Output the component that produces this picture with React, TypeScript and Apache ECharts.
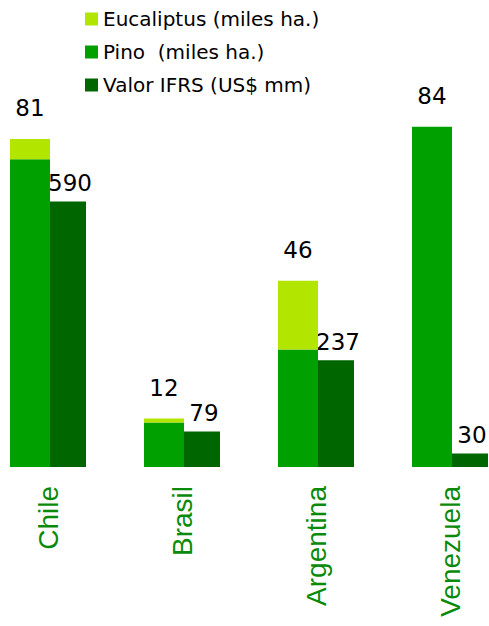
import React, { useEffect, useRef } from "react";
import * as echarts from "echarts";

const categories = ["Chile", "Brasil", "Argentina", "Venezuela"];
const pinoValues = [76, 11, 29, 84];
const eucaliptusValues = [5, 1, 17, 0];
const ifrsValues = [590, 79, 237, 30];
const legendNames = ["Eucaliptus (miles ha.)", "Pino  (miles ha.)", "Valor IFRS (US$ mm)"];

const totals = categories.map((_, i) => pinoValues[i] + eucaliptusValues[i]);

const SHIFT = 19;

export default function App() {
  const ref = useRef<HTMLDivElement>(null);
  useEffect(() => {
    if (!ref.current) return;
    const chart = echarts.init(ref.current, null, { renderer: "svg" });
    const labelFont = { fontFamily: "DejaVu Sans", fontSize: 23, color: "#000" };
    chart.setOption({
      animation: false,
      backgroundColor: "#fff",
      legend: {
        orient: "vertical",
        left: 80 + SHIFT,
        top: 3,
        itemWidth: 13,
        itemHeight: 13,
        itemGap: 11,
        icon: "rect",
        data: legendNames,
        textStyle: { fontFamily: "DejaVu Sans", fontSize: 20, color: "#000", lineHeight: 22 },
      },
      grid: { left: 0, right: 0, top: 62, bottom: 159 },
      xAxis: {
        type: "category",
        data: categories,
        axisLine: { show: false },
        axisTick: { show: false },
        axisLabel: {
          rotate: 90,
          margin: 19,
          color: "#0a8a0a",
          fontFamily: "Liberation Sans",
          fontSize: 28,
        },
      },
      yAxis: [
        { type: "value", min: 0, max: 100, show: false },
        { type: "value", min: 0, max: 900, show: false },
      ],
      series: [
        {
          name: legendNames[1],
          type: "bar",
          stack: "ha",
          yAxisIndex: 0,
          barWidth: 40,
          barGap: "0%",
          z: 3,
          itemStyle: { color: "#00a000" },
          data: pinoValues,
        },
        {
          name: legendNames[0],
          type: "bar",
          stack: "ha",
          yAxisIndex: 0,
          barWidth: 40,
          barGap: "0%",
          z: 3,
          itemStyle: { color: "#b2e600" },
          label: {
            show: true,
            position: "top",
            distance: 19,
            ...labelFont,
            formatter: (p: any) => String(totals[p.dataIndex]),
          },
          data: eucaliptusValues,
        },
        {
          name: legendNames[2],
          type: "bar",
          yAxisIndex: 1,
          barWidth: 36,
          barGap: "0%",
          z: 2,
          itemStyle: { color: "#006600" },
          label: {
            show: true,
            position: "top",
            distance: 7,
            offset: [2, 0],
            ...labelFont,
          },
          data: ifrsValues,
        },
      ],
    });
    return () => chart.dispose();
  }, []);
  return (
    <div
      style={{
        position: "fixed",
        left: 0,
        top: 0,
        width: 489,
        height: 626,
        overflow: "hidden",
        background: "#fff",
      }}
    >
      <div
        ref={ref}
        style={{ position: "absolute", left: -SHIFT, top: 0, width: 536, height: 626 }}
      />
    </div>
  );
}
